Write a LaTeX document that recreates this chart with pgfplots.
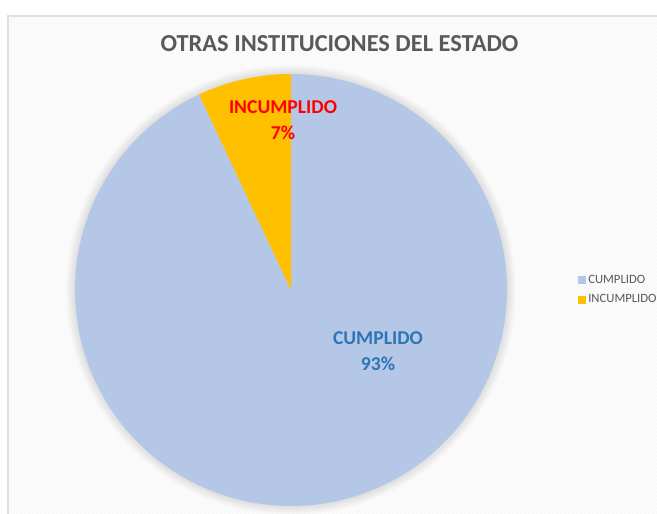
\documentclass[border=0pt]{standalone}
\usepackage{pgfplots}
\pgfplotsset{compat=1.18}
\usepackage{fontspec}
\setmainfont{Carlito}
\usetikzlibrary{patterns}

\definecolor{cumplido}{HTML}{B4C7E7}
\definecolor{incumplido}{HTML}{FFC000}
\definecolor{titulo}{HTML}{595959}
\definecolor{azul}{HTML}{2E75B6}

% porcentajes
\def\vCumplido{93}
\def\vIncumplido{7}
\pgfmathsetmacro{\aStart}{90+\vIncumplido*3.6}

\begin{document}
\begin{tikzpicture}
\begin{axis}[
  scale only axis,
  width=492.75pt, height=385.5pt,
  xmin=0, xmax=657, ymin=0, ymax=514,
  hide axis, clip=false,
  legend style={draw=none, fill=none, at={(axis cs:578,224)}, anchor=west,
    font=\fontsize{9.5}{11}\selectfont, text=titulo,
    row sep=4pt, inner sep=0pt, nodes={inner sep=1.5pt}},
  legend cell align=left,
  legend image code/.code={\fill[#1] (0pt,-3pt) rectangle (6pt,3pt);},
]
% fondo del grafico
\fill[gray!5] (axis cs:8,498) rectangle (axis cs:680,-20);
\fill[pattern=north west lines, pattern color=white] (axis cs:8,498) rectangle (axis cs:680,-20);
\draw[gray!25, line width=0.8pt] (axis cs:8,-20) -- (axis cs:8,498) -- (axis cs:680,498);

% sombra
\pgfplotsinvokeforeach{9,8,7,6,5,4,3,2,1}{
  \fill[black, opacity=0.012] (axis cs:291,224) circle[radius=(216+#1)*0.75pt];
}

\addplot[fill=cumplido, draw=none, domain=\aStart:450, samples=200, variable=\t]
  ({291+216*cos(t)}, {224+216*sin(t)}) -- (axis cs:291,224) -- cycle;
\addlegendentry{CUMPLIDO}
\addplot[fill=incumplido, draw=none, domain=90:\aStart, samples=40, variable=\t]
  ({291+216*cos(t)}, {224+216*sin(t)}) -- (axis cs:291,224) -- cycle;
\addlegendentry{INCUMPLIDO}

\node[font=\bfseries\fontsize{18.3}{22}\selectfont, text=titulo] at (axis cs:339.5,470.5) {OTRAS INSTITUCIONES DEL ESTADO};
\node[font=\bfseries\fontsize{14.7}{19}\selectfont, text=red, align=center] at (axis cs:283,394) {INCUMPLIDO\\\vIncumplido\%};
\node[font=\bfseries\fontsize{14.7}{19}\selectfont, text=azul, align=center] at (axis cs:378,163) {CUMPLIDO\\\vCumplido\%};
\end{axis}
\pgfresetboundingbox
\useasboundingbox (0,0) rectangle (492.75pt,385.5pt);
\end{tikzpicture}
\end{document}
